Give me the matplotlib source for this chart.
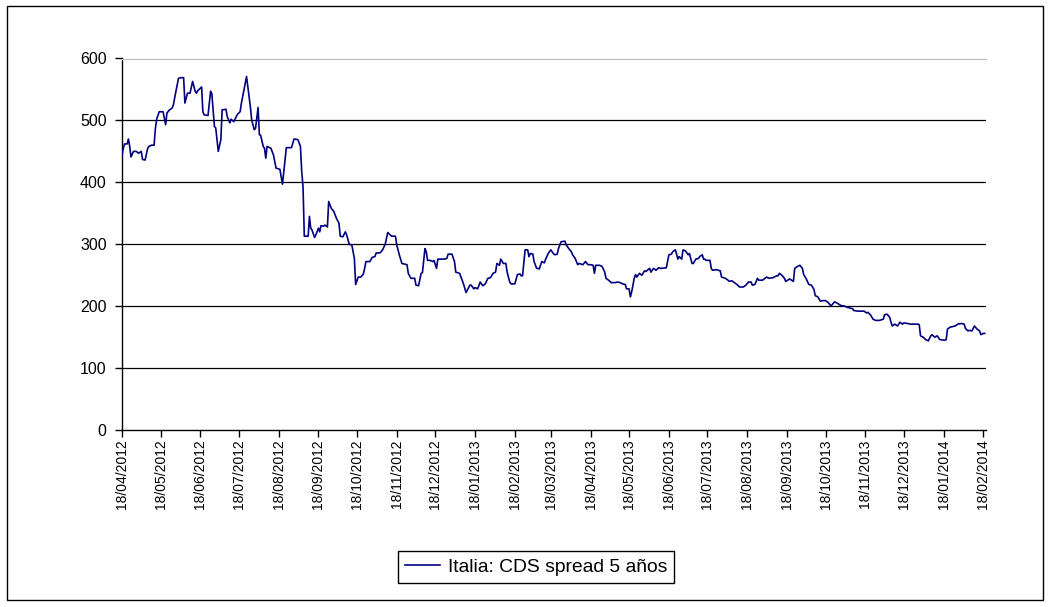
import matplotlib
matplotlib.use("Agg")
import matplotlib.pyplot as plt
from matplotlib.patches import Rectangle
import pandas as pd

# daily observations, one line per calendar month
obs_dates = [
    "2012-04-18", "2012-04-19", "2012-04-20", "2012-04-22", "2012-04-23", "2012-04-24", "2012-04-25", "2012-04-27", "2012-04-29",
    "2012-05-01", "2012-05-03", "2012-05-04", "2012-05-06", "2012-05-08", "2012-05-09", "2012-05-11", "2012-05-13", "2012-05-14", "2012-05-15", "2012-05-17", "2012-05-20", "2012-05-22", "2012-05-23", "2012-05-25", "2012-05-27", "2012-05-28", "2012-05-30",
    "2012-06-01", "2012-06-03", "2012-06-05", "2012-06-06", "2012-06-08", "2012-06-10", "2012-06-12", "2012-06-14", "2012-06-15", "2012-06-16", "2012-06-19", "2012-06-20", "2012-06-21", "2012-06-24", "2012-06-26", "2012-06-27", "2012-06-29", "2012-06-30",
    "2012-07-02", "2012-07-04", "2012-07-05", "2012-07-08", "2012-07-09", "2012-07-11", "2012-07-12", "2012-07-14", "2012-07-15", "2012-07-17", "2012-07-19", "2012-07-20", "2012-07-22", "2012-07-24", "2012-07-25", "2012-07-27", "2012-07-28", "2012-07-30", "2012-07-31",
    "2012-08-02", "2012-08-03", "2012-08-04", "2012-08-06", "2012-08-07", "2012-08-08", "2012-08-09", "2012-08-12", "2012-08-14", "2012-08-16", "2012-08-19", "2012-08-21", "2012-08-23", "2012-08-24", "2012-08-28", "2012-08-30",
    "2012-09-02", "2012-09-04", "2012-09-05", "2012-09-06", "2012-09-07", "2012-09-10", "2012-09-11", "2012-09-12", "2012-09-13", "2012-09-15", "2012-09-16", "2012-09-18", "2012-09-19", "2012-09-20", "2012-09-22", "2012-09-23", "2012-09-25", "2012-09-26", "2012-09-28", "2012-09-30",
    "2012-10-02", "2012-10-04", "2012-10-05", "2012-10-07", "2012-10-09", "2012-10-10", "2012-10-12", "2012-10-14", "2012-10-16", "2012-10-17", "2012-10-19", "2012-10-21", "2012-10-23", "2012-10-24", "2012-10-25", "2012-10-28", "2012-10-30",
    "2012-11-01", "2012-11-02", "2012-11-05", "2012-11-07", "2012-11-09", "2012-11-11", "2012-11-14", "2012-11-17", "2012-11-18", "2012-11-20", "2012-11-22", "2012-11-24", "2012-11-26", "2012-11-27", "2012-11-29",
    "2012-12-02", "2012-12-03", "2012-12-05", "2012-12-07", "2012-12-08", "2012-12-10", "2012-12-11", "2012-12-12", "2012-12-14", "2012-12-16", "2012-12-17", "2012-12-19", "2012-12-20", "2012-12-23", "2012-12-25", "2012-12-27", "2012-12-28", "2012-12-31",
    "2013-01-02", "2013-01-03", "2013-01-06", "2013-01-09", "2013-01-11", "2013-01-14", "2013-01-15", "2013-01-17", "2013-01-18", "2013-01-20", "2013-01-22", "2013-01-24", "2013-01-26", "2013-01-28", "2013-01-30",
    "2013-02-01", "2013-02-03", "2013-02-04", "2013-02-06", "2013-02-07", "2013-02-09", "2013-02-11", "2013-02-12", "2013-02-14", "2013-02-15", "2013-02-18", "2013-02-20", "2013-02-22", "2013-02-23", "2013-02-24", "2013-02-26", "2013-02-28",
    "2013-03-01", "2013-03-02", "2013-03-04", "2013-03-05", "2013-03-07", "2013-03-08", "2013-03-09", "2013-03-11", "2013-03-13", "2013-03-14", "2013-03-16", "2013-03-18", "2013-03-20", "2013-03-21", "2013-03-23", "2013-03-24", "2013-03-26", "2013-03-29", "2013-03-30",
    "2013-04-01", "2013-04-03", "2013-04-04", "2013-04-06", "2013-04-08", "2013-04-09", "2013-04-12", "2013-04-14", "2013-04-16", "2013-04-18", "2013-04-20", "2013-04-21", "2013-04-22", "2013-04-25", "2013-04-27", "2013-04-29", "2013-04-30",
    "2013-05-02", "2013-05-04", "2013-05-07", "2013-05-09", "2013-05-11", "2013-05-13", "2013-05-15", "2013-05-16", "2013-05-18", "2013-05-19", "2013-05-20", "2013-05-22", "2013-05-23", "2013-05-24", "2013-05-26", "2013-05-28", "2013-05-30", "2013-05-31",
    "2013-06-03", "2013-06-04", "2013-06-06", "2013-06-08", "2013-06-10", "2013-06-12", "2013-06-16", "2013-06-18", "2013-06-20", "2013-06-21", "2013-06-23", "2013-06-24", "2013-06-25", "2013-06-26", "2013-06-28", "2013-06-29",
    "2013-07-01", "2013-07-03", "2013-07-04", "2013-07-06", "2013-07-07", "2013-07-09", "2013-07-11", "2013-07-12", "2013-07-14", "2013-07-15", "2013-07-16", "2013-07-17", "2013-07-20", "2013-07-21", "2013-07-22", "2013-07-25", "2013-07-28", "2013-07-29",
    "2013-08-01", "2013-08-03", "2013-08-04", "2013-08-06", "2013-08-08", "2013-08-10", "2013-08-12", "2013-08-15", "2013-08-17", "2013-08-19", "2013-08-21", "2013-08-22", "2013-08-24", "2013-08-26", "2013-08-27", "2013-08-30",
    "2013-09-02", "2013-09-04", "2013-09-07", "2013-09-10", "2013-09-11", "2013-09-12", "2013-09-14", "2013-09-16", "2013-09-17", "2013-09-20", "2013-09-23", "2013-09-24", "2013-09-26", "2013-09-28", "2013-09-30",
    "2013-10-01", "2013-10-03", "2013-10-05", "2013-10-07", "2013-10-09", "2013-10-10", "2013-10-12", "2013-10-14", "2013-10-16", "2013-10-18", "2013-10-20", "2013-10-22", "2013-10-23", "2013-10-25", "2013-10-27", "2013-10-30",
    "2013-11-02", "2013-11-04", "2013-11-06", "2013-11-08", "2013-11-09", "2013-11-12", "2013-11-15", "2013-11-17", "2013-11-19", "2013-11-20", "2013-11-22", "2013-11-24", "2013-11-26", "2013-11-29",
    "2013-12-02", "2013-12-03", "2013-12-05", "2013-12-07", "2013-12-08", "2013-12-09", "2013-12-11", "2013-12-13", "2013-12-14", "2013-12-15", "2013-12-17", "2013-12-18", "2013-12-21", "2013-12-23", "2013-12-26", "2013-12-29", "2013-12-30", "2013-12-31",
    "2014-01-02", "2014-01-04", "2014-01-06", "2014-01-08", "2014-01-09", "2014-01-11", "2014-01-13", "2014-01-15", "2014-01-19", "2014-01-20", "2014-01-21", "2014-01-23", "2014-01-25", "2014-01-27", "2014-01-29",
    "2014-02-01", "2014-02-03", "2014-02-04", "2014-02-06", "2014-02-07", "2014-02-09", "2014-02-11", "2014-02-13", "2014-02-15", "2014-02-16", "2014-02-18", "2014-02-19",
]

# 5y CDS spread, basis points (same month layout as obs_dates)
spread_bp = [
    443, 455, 462, 462, 470, 458, 441, 450, 450,
    447, 450, 437, 436, 455, 458, 460, 460, 487, 502, 514, 514, 493, 512, 517, 520, 525, 547,
    568, 569, 569, 528, 544, 544, 563, 547, 544, 548, 554, 514, 509, 508, 547, 543, 490, 488,
    450, 469, 517, 518, 506, 496, 502, 498, 502, 510, 514, 528, 549, 571, 555, 522, 501, 485, 487,
    521, 477, 476, 458, 455, 439, 458, 455, 444, 423, 421, 397, 437, 456, 456, 470,
    469, 458, 417, 393, 313, 313, 345, 326, 323, 311, 315, 326, 320, 330, 329, 331, 328, 369, 358, 353,
    342, 334, 313, 312, 320, 315, 300, 299, 277, 235, 247, 247, 252, 261, 272, 272, 279,
    280, 286, 286, 291, 300, 319, 313, 313, 299, 283, 269, 268, 267, 253, 245,
    245, 234, 233, 253, 254, 293, 288, 274, 274, 272, 274, 261, 276, 276, 276, 277, 284, 284,
    272, 255, 253, 236, 222, 234, 234, 228, 230, 228, 239, 233, 236, 245, 246,
    253, 255, 269, 266, 276, 269, 269, 255, 239, 236, 236, 251, 252, 249, 249, 291, 291,
    280, 285, 284, 272, 261, 261, 260, 272, 270, 276, 285, 291, 285, 283, 284, 293, 304, 305, 299,
    293, 288, 283, 277, 267, 269, 267, 272, 267, 267, 266, 253, 266, 266, 264, 255, 245,
    242, 238, 238, 239, 238, 236, 235, 228, 228, 215, 223, 245, 251, 247, 253, 250, 257, 256,
    261, 255, 261, 258, 262, 261, 262, 283, 284, 288, 291, 284, 276, 280, 276, 291,
    289, 283, 285, 269, 269, 276, 277, 280, 283, 276, 276, 274, 274, 261, 258, 259, 257, 247,
    245, 242, 240, 241, 238, 235, 231, 231, 234, 239, 239, 234, 235, 245, 242, 242,
    247, 245, 246, 249, 249, 253, 250, 245, 240, 244, 240, 261, 264, 266, 261,
    251, 244, 235, 234, 227, 217, 215, 208, 209, 209, 206, 201, 202, 207, 205, 201,
    200, 198, 197, 196, 193, 192, 192, 192, 189, 190, 186, 179, 177, 177,
    179, 186, 187, 182, 174, 168, 171, 168, 171, 174, 171, 173, 172, 171, 171, 171, 170, 152,
    150, 146, 144, 152, 154, 150, 152, 146, 145, 146, 163, 166, 167, 168, 171,
    172, 171, 164, 160, 161, 160, 168, 163, 160, 154, 156, 156,
]

series_label = "Italia: CDS spread 5 años"
y_ticks = [0, 100, 200, 300, 400, 500, 600]
tick_dates = pd.date_range("2012-04-18", "2014-02-18", freq=pd.DateOffset(months=1))

plt.rcParams["font.family"] = ["Liberation Sans", "DejaVu Sans"]

W, H = 1050, 607
fig = plt.figure(figsize=(W / 100, H / 100), dpi=100)
ax = fig.add_axes([122 / W, 1 - 430 / H, (986 - 122) / W, (430 - 58.5) / H])

x = pd.to_datetime(obs_dates)
ax.plot(x, spread_bp, color="#000080", lw=1.2, label=series_label, zorder=3)

# horizontal gridlines between the axis and the top border
for v in y_ticks[1:-1]:
    ax.axhline(v, color="black", lw=0.9, zorder=1)

ax.set_ylim(y_ticks[0], y_ticks[-1])
ax.set_yticks(y_ticks)
ax.set_xlim(pd.Timestamp("2012-04-18"), pd.Timestamp("2014-02-20"))
ax.set_xticks(tick_dates)
ax.set_xticklabels([d.strftime("%d/%m/%Y") for d in tick_dates], rotation=90)

ax.spines["right"].set_visible(False)
ax.spines["top"].set_color("#c0c0c0")
ax.spines["top"].set_linewidth(0.9)
for side in ("left", "bottom"):
    ax.spines[side].set_color("black")
    ax.spines[side].set_linewidth(1.0)

ax.tick_params(axis="y", direction="out", length=5, width=1, pad=6, labelsize=11.5)
ax.tick_params(axis="x", direction="out", length=5, width=1, pad=2, labelsize=10)

leg = fig.legend(loc="center", bbox_to_anchor=(536 / W, 1 - 567 / H),
                 fontsize=13.9, frameon=True, fancybox=False, framealpha=1,
                 edgecolor="black", handlelength=1.8, handletextpad=0.4,
                 borderpad=0.35)
leg.get_frame().set_linewidth(1.0)

# chart area border
fig.patches.append(Rectangle((7 / W, 1 - 600 / H), (1043 - 7) / W, (600 - 6) / H,
                             transform=fig.transFigure, fill=False,
                             edgecolor="black", lw=1.0))

fig.savefig("out.png", dpi=100)
